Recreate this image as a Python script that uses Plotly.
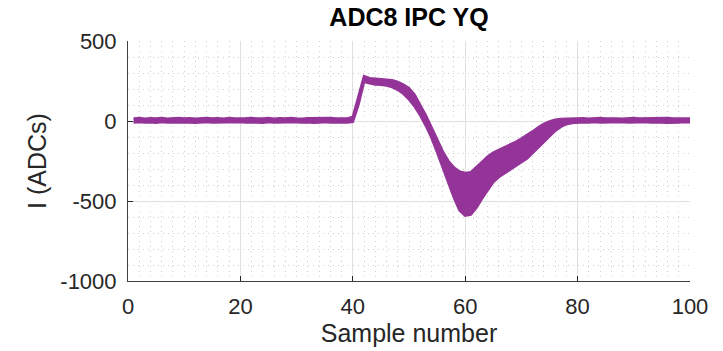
import plotly.graph_objects as go

# Sample numbers
samples = list(range(1, 101))

# Upper envelope of the overlaid traces (ADCs)
upper = [
    16, 18, 14, 17, 15, 19, 14, 16, 18, 15,
    17, 14, 16, 19, 15, 17, 14, 18, 16, 15,
    17, 19, 15, 16, 18, 14, 17, 15, 19, 16,
    14, 17, 18, 15, 16, 19, 15, 17, 16, 25,
    150, 280, 268, 265, 265, 262, 255, 245, 228, 205,
    165, 100, 35, -40, -115, -190, -250, -290, -315, -325,
    -320, -290, -255, -222, -198, -180, -165, -150, -130, -110,
    -90, -65, -40, -18, -2, 8, 13, 15, 16, 15,
    17, 14, 16, 18, 15, 17, 16, 14, 17, 18,
    15, 16, 17, 14, 16, 18, 15, 17, 16, 15,
]

# Lower envelope of the overlaid traces (ADCs)
lower = [
    -9, -7, -10, -8, -11, -6, -9, -8, -10, -7,
    -9, -11, -8, -7, -10, -9, -12, -8, -9, -7,
    -10, -8, -9, -11, -7, -9, -10, -8, -7, -10,
    -9, -8, -11, -9, -7, -10, -8, -9, -10, -6,
    100, 245, 235, 228, 226, 222, 212, 195, 170, 135,
    90, 35, -30, -105, -195, -290, -390, -480, -560, -592,
    -585, -543, -485, -430, -382, -350, -328, -307, -285, -258,
    -235, -200, -165, -128, -95, -62, -37, -20, -12, -9,
    -8, -10, -7, -9, -8, -11, -9, -7, -10, -8,
    -9, -7, -10, -8, -9, -11, -8, -9, -7, -8,
]

x_ticks = [0, 20, 40, 60, 80, 100]
y_ticks = [-1000, -500, 0, 500]

purple = "rgb(148,52,152)"
dark = "#262626"
font_family = "Liberation Sans, Arial, Helvetica, sans-serif"

fig = go.Figure()
fig.add_trace(go.Scatter(
    x=samples, y=lower, mode="lines",
    line=dict(color=purple, width=2.5),
    showlegend=False, hoverinfo="skip",
))
fig.add_trace(go.Scatter(
    x=samples, y=upper, mode="lines",
    line=dict(color=purple, width=2.5),
    fill="tonexty", fillcolor=purple,
    showlegend=False, hoverinfo="skip",
))

fig.update_layout(
    width=723, height=351,
    margin=dict(l=128, r=33, t=41, b=65),
    paper_bgcolor="white", plot_bgcolor="white",
    font=dict(family=font_family, color=dark),
    title=dict(
        text="<b>ADC8 IPC YQ</b>",
        font=dict(size=25, color="black", family=font_family),
        x=(128 + 690) / 2 / 723, xanchor="center",
        y=1 - 17 / 351, yanchor="middle", xref="container", yref="container",
    ),
)

minor_color = "rgb(205,205,205)"
fig.update_xaxes(
    range=[0, 100], tickvals=x_ticks, ticktext=[str(v) for v in x_ticks],
    ticks="inside", ticklen=5, tickcolor=dark, ticklabelstandoff=6,
    showline=True, linecolor="#404040", linewidth=1,
    showgrid=True, gridcolor="rgb(224,224,224)", gridwidth=1,
    zeroline=False,
    minor=dict(dtick=2, tick0=0, showgrid=True, gridcolor=minor_color,
               griddash="1px,4px", gridwidth=1, ticks=""),
    tickfont=dict(size=22, color=dark),
    title=dict(text="Sample number", font=dict(size=25, color=dark), standoff=2),
)
fig.update_yaxes(
    range=[-1000, 500], tickvals=y_ticks, ticktext=[str(v) for v in y_ticks],
    ticks="inside", ticklen=5, tickcolor=dark, ticklabelstandoff=6,
    showline=True, linecolor="#404040", linewidth=1,
    showgrid=True, gridcolor="rgb(224,224,224)", gridwidth=1,
    zeroline=False,
    minor=dict(dtick=100, tick0=0, showgrid=True, gridcolor=minor_color,
               griddash="1px,4px", gridwidth=1, ticks=""),
    tickfont=dict(size=22, color=dark),
    title=dict(text="I (ADCs)", font=dict(size=25, color=dark), standoff=6),
)

fig.write_html("out.html")
